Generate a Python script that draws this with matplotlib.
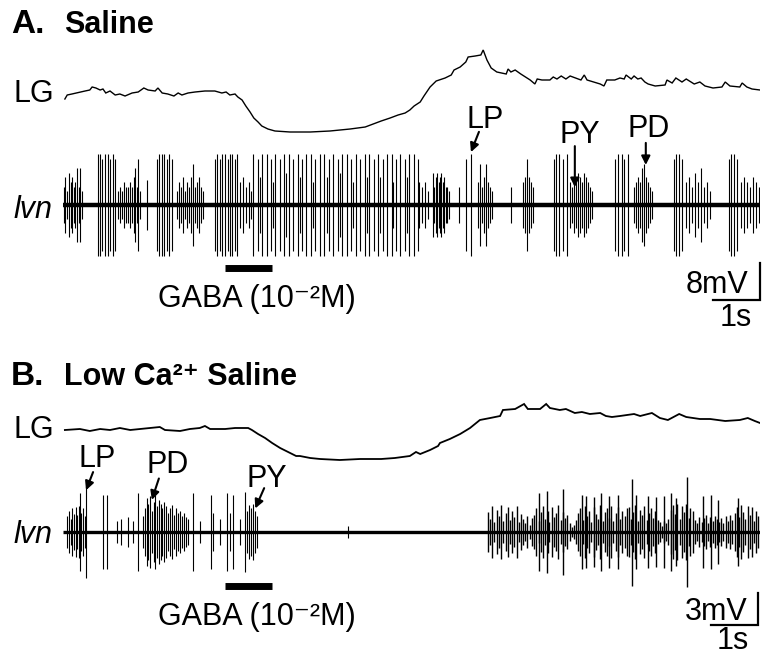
import matplotlib
matplotlib.use("Agg")
import matplotlib.pyplot as plt

plt.rcParams['font.family'] = ['Liberation Sans', 'DejaVu Sans']

# ------------------------------------------------------------
# Data: time in s, LG membrane potential in mV (relative),
# lvn spikes as time (s) + half peak-to-peak amplitude (mV)
# ------------------------------------------------------------
T_END = 14.83
gaba_on, gaba_off = 3.45, 4.45

# A. Saline
lg_a = [(0.04, -1.0), (0.09, 0.0), (0.19, 0.25), (0.47, 1.0), (0.57, 1.25), (0.62, 2.0),
        (0.70, 1.75), (0.79, 1.25), (0.85, 1.5), (0.91, 0.5), (1.00, 1.0), (1.11, 0.0),
        (1.21, 0.25), (1.32, -0.25), (1.47, 0.5), (1.60, 0.75), (1.72, 1.75), (1.81, 1.25),
        (1.96, 1.0), (2.02, 1.75), (2.11, 0.5), (2.23, 0.25), (2.36, -0.25), (2.45, 0.5),
        (2.53, 0.0), (2.66, 0.5), (2.81, 0.75), (3.02, 1.0), (3.23, 1.0), (3.38, 0.5),
        (3.47, 0.75), (3.55, 0.0), (3.66, 0.25), (3.72, -0.5), (3.81, -1.25), (3.89, -2.75),
        (3.98, -4.25), (4.06, -5.75), (4.15, -6.75), (4.23, -7.75), (4.36, -8.5), (4.51, -9.0),
        (4.83, -9.25), (5.26, -9.25), (5.68, -9.0), (6.11, -8.5), (6.43, -8.0), (6.77, -6.5),
        (6.96, -5.75), (7.13, -5.0), (7.28, -4.5), (7.38, -3.75), (7.47, -2.75), (7.60, -1.75),
        (7.68, -0.25), (7.81, 2.0), (7.94, 3.5), (8.13, 4.25), (8.26, 5.0), (8.32, 6.25),
        (8.45, 7.0), (8.57, 8.25), (8.62, 9.5), (8.77, 9.75), (8.89, 10.0), (8.94, 11.25),
        (9.02, 8.75), (9.11, 6.75), (9.23, 5.75), (9.43, 5.25), (9.47, 6.5), (9.53, 5.75),
        (9.62, 6.25), (9.74, 5.25), (9.94, 3.75), (10.04, 2.75), (10.09, 4.0), (10.19, 3.75),
        (10.36, 3.75), (10.43, 4.5), (10.51, 4.0), (10.60, 4.75), (10.70, 4.0), (10.79, 4.75),
        (11.02, 3.75), (11.09, 5.0), (11.15, 3.75), (11.43, 2.75), (11.51, 2.25), (11.57, 3.75),
        (11.74, 3.75), (11.85, 4.25), (11.94, 4.0), (11.98, 5.0), (12.09, 4.0), (12.15, 4.75),
        (12.23, 4.0), (12.30, 4.25), (12.38, 3.25), (12.45, 2.75), (12.60, 2.25), (12.81, 2.5),
        (12.85, 3.75), (12.96, 3.0), (13.04, 4.25), (13.17, 3.25), (13.26, 4.0), (13.43, 2.75),
        (13.55, 3.25), (13.66, 2.25), (13.83, 1.75), (14.02, 2.0), (14.09, 3.25), (14.19, 2.25),
        (14.40, 2.0), (14.45, 3.0), (14.55, 2.0), (14.66, 1.5), (14.83, 1.25)]

lvn_a_t = [
    0.02, 0.05, 0.09, 0.12, 0.16, 0.19, 0.23, 0.26, 0.30, 0.33, 0.36, 0.40,
    0.74, 0.79, 0.84, 0.89, 0.95, 1.00, 1.06, 1.11,
    1.17, 1.21, 1.26, 1.30, 1.34, 1.38, 1.43, 1.47, 1.51, 1.53, 1.57, 1.60, 1.64,
    1.79,
    2.01, 2.05, 2.10, 2.15, 2.21, 2.26, 2.31,
    2.43, 2.47, 2.51, 2.55, 2.60, 2.64, 2.68, 2.72, 2.77, 2.81, 2.85, 2.89, 2.94, 2.98,
    3.23, 3.28, 3.34, 3.39, 3.45, 3.50, 3.55, 3.60, 3.66, 3.71,
    3.77, 3.83, 3.89, 3.96, 4.00,
    4.04, 4.14, 4.23, 4.33, 4.42, 4.52, 4.61, 4.71, 4.80, 4.90,
    4.99, 5.09, 5.18, 5.28, 5.37, 5.47, 5.56, 5.66, 5.75, 5.85,
    5.94, 6.04, 6.13, 6.23, 6.32, 6.42, 6.51, 6.61, 6.70, 6.80,
    6.89, 6.99, 7.08, 7.18, 7.27, 7.37, 7.46, 7.55,
    4.19, 4.47, 4.75, 5.04, 5.32, 5.61, 5.90, 6.18, 6.46, 6.75, 7.03, 7.32,
    7.57, 7.64, 7.70, 7.77,
    7.87, 7.90, 7.93, 7.96, 7.99, 8.02, 8.05, 8.08, 8.11, 8.14, 8.17, 8.21,
    8.43, 8.57, 8.68,
    8.83, 8.87, 8.91, 8.96, 9.00, 9.04, 9.09, 9.13,
    9.53,
    9.79, 9.83, 9.87, 9.91, 9.96, 10.00,
    10.44, 10.49, 10.55, 10.63, 10.72,
    10.79, 10.83, 10.87, 10.91, 10.96, 11.00, 11.04, 11.09, 11.13, 11.17, 11.21, 11.26,
    11.75, 11.80, 11.89, 11.94, 12.03,
    12.15, 12.19, 12.23, 12.28, 12.32, 12.36, 12.40, 12.45, 12.49, 12.53,
    12.99, 13.04, 13.10, 13.17,
    13.26, 13.32, 13.38, 13.45, 13.51, 13.57, 13.64, 13.70, 13.77,
    14.16, 14.21, 14.27, 14.34,
    14.43, 14.49, 14.55, 14.62, 14.68, 14.74, 14.81,
]
lvn_a_amp = [
    4, 6, 3, 7, 5, 6, 4, 5, 8, 4, 8, 3,
    11, 11, 10, 11, 11, 10, 11, 10,
    3, 4, 3, 5, 4, 4, 5, 4, 6, 8, 4, 10, 3,
    5.5,
    10, 11, 11, 11, 10, 11, 10,
    3, 5, 4, 6, 3, 5, 4, 6, 9, 4, 5, 6, 4, 3,
    10, 11, 10, 11, 11, 10, 11, 11, 10, 11,
    5, 6, 4, 5, 3,
    11, 10, 11, 11, 10, 11, 10, 11, 11, 10,
    11, 10, 11, 11, 10, 11, 11, 10, 11, 10,
    11, 11, 10, 11, 10, 11, 11, 10, 11, 10,
    11, 11, 10, 11, 10, 11, 11, 10,
    6, 5, 7, 6, 5, 6, 7, 5, 6, 6, 5, 6,
    5, 4, 5, 3,
    7, 4, 6, 7, 5, 6, 7, 5, 6, 4, 4, 3,
    4, 10, 11,
    5, 9, 4, 6, 9, 5, 4, 3,
    4,
    5, 6, 10, 6, 5, 4,
    10, 11, 11, 10, 11,
    5, 4, 6, 5, 7, 6, 5, 7, 6, 5, 4, 3,
    10, 11, 11, 10, 11,
    4, 5, 6, 5, 8, 9, 6, 5, 4, 3,
    10, 11, 11, 10,
    5, 6, 4, 7, 5, 8, 4, 5, 3,
    10, 11, 11, 10,
    5, 6, 5, 4, 6, 5, 4,
]

# B. Low Ca2+ saline
lg_b = [(0.04, 0.0), (0.36, 0.25), (0.57, -0.25), (0.79, 0.25), (1.00, 0.0), (1.21, 0.5),
        (1.43, 0.0), (1.64, 0.25), (1.85, 0.5), (2.06, 0.75), (2.17, 0.0), (2.49, -0.25),
        (2.70, 0.25), (2.91, 0.5), (3.02, 1.0), (3.13, 0.25), (3.45, 0.25), (3.66, 0.5),
        (3.94, 0.5), (4.02, 0.0), (4.15, -1.0), (4.30, -2.0), (4.45, -3.25), (4.62, -4.5),
        (4.79, -5.5), (4.96, -6.5), (5.04, -6.5), (5.26, -7.0), (5.47, -7.25), (5.89, -7.5),
        (6.32, -7.25), (6.77, -7.25), (7.06, -7.0), (7.38, -6.5), (7.51, -5.5), (7.60, -6.0),
        (7.81, -5.0), (7.98, -4.0), (8.02, -3.25), (8.23, -2.25), (8.45, -1.0), (8.66, 0.5),
        (8.87, 2.5), (9.09, 3.0), (9.30, 3.5), (9.36, 5.0), (9.62, 5.25), (9.81, 6.5),
        (9.89, 5.25), (10.15, 5.25), (10.28, 6.5), (10.36, 5.5), (10.57, 5.0), (10.70, 5.25),
        (10.89, 4.25), (11.04, 4.5), (11.21, 4.0), (11.43, 4.25), (11.55, 3.5), (11.68, 3.25),
        (11.85, 3.5), (12.15, 4.0), (12.28, 3.5), (12.53, 4.25), (12.70, 3.0), (12.87, 2.5),
        (13.11, 4.0), (13.26, 3.25), (13.55, 2.75), (13.77, 2.75), (14.09, 2.25), (14.40, 2.5),
        (14.57, 3.0), (14.72, 2.25), (14.83, 1.75)]

# pyloric bursts before / during GABA
lvn_b_t = [
    0.09, 0.13, 0.16, 0.20, 0.23, 0.27, 0.30, 0.34, 0.36, 0.39, 0.43, 0.46, 0.49,
    0.85, 0.94, 1.15, 1.23, 1.38, 1.49, 1.60,
    1.70, 1.74, 1.78, 1.81, 1.85, 1.89, 1.93, 1.96, 2.00, 2.04, 2.08, 2.11, 2.15,
    2.19, 2.23, 2.27, 2.31, 2.36, 2.40, 2.45, 2.49, 2.53, 2.57, 2.62, 2.66,
    2.77, 2.91, 3.15, 3.19, 3.34, 3.49, 3.55, 3.62, 3.77,
    3.87, 3.91, 3.96, 4.00, 4.04, 4.09, 4.13,
    6.06,
]
lvn_b_amp = [
    1.5, 2.0, 1.2, 2.2, 1.7, 2.3, 1.6, 2.4, 3.6, 1.8, 2.2, 1.5, 4.3,
    3.5, 3.5, 1.0, 1.2, 1.4, 1.0, 3.6,
    1.5, 2.2, 3.2, 2.6, 3.4, 2.0, 2.8, 3.5, 2.4, 3.0, 2.6, 2.2, 2.8,
    2.4, 1.8, 2.2, 2.5, 1.6, 2.2, 1.8, 2.0, 1.5, 1.8, 1.4, 1.2,
    3.6, 1.0, 3.5, 1.8, 1.2, 3.6, 1.8, 3.5, 1.2,
    3.7, 2.0, 2.5, 2.2, 2.6, 2.0, 1.5,
    0.6,
]

# ongoing tonic activity after recovery
wash_b_t = [
    9.04, 9.09, 9.13, 9.18, 9.23, 9.27, 9.32, 9.37, 9.42, 9.46, 9.51, 9.56, 9.60, 9.65, 9.70, 9.74, 9.79, 9.84, 9.88, 9.93, 9.98,
    10.03, 10.07, 10.12, 10.17, 10.21, 10.26, 10.31, 10.35, 10.40, 10.45, 10.49, 10.54, 10.59, 10.63, 10.68, 10.73, 10.78, 10.82, 10.87, 10.92, 10.96,
    11.01, 11.06, 11.10, 11.15, 11.20, 11.24, 11.29, 11.34, 11.39, 11.43, 11.48, 11.53, 11.57, 11.62, 11.67, 11.71, 11.76, 11.81, 11.85, 11.90, 11.95, 11.99,
    12.04, 12.09, 12.13, 12.18, 12.23, 12.27, 12.32, 12.37, 12.42, 12.46, 12.51, 12.56, 12.60, 12.65, 12.70, 12.74, 12.79, 12.84, 12.88, 12.93, 12.98,
    13.03, 13.07, 13.12, 13.17, 13.21, 13.26, 13.31, 13.35, 13.40, 13.45, 13.49, 13.54, 13.59, 13.63, 13.68, 13.73, 13.77, 13.82, 13.87, 13.91, 13.96,
    14.01, 14.05, 14.10, 14.15, 14.19, 14.24, 14.29, 14.33, 14.38, 14.43, 14.47, 14.52, 14.57, 14.61, 14.66, 14.71, 14.75, 14.79,
    # large units riding on it
    10.13, 10.30, 10.64, 11.04, 11.13, 11.30, 11.45, 11.62, 11.81, 12.11, 12.19,
    12.45, 12.62, 12.79, 12.94, 13.04, 13.28, 13.62, 13.79, 13.94, 14.36,
]
wash_b_amp = [
    1.9, 1.2, 2.4, 0.9, 2.1, 1.5, 2.5, 1.0, 1.8, 2.3, 1.1, 2.0, 1.4, 2.4, 0.9, 1.7, 1.2, 0.8, 1.5, 0.7, 1.3,
    1.6, 2.2, 1.0, 1.9, 2.4, 1.2, 2.0, 0.9, 2.3, 1.4, 1.8, 2.5, 1.1, 1.9, 1.3, 1.6, 0.8, 0.5, 0.7, 1.1, 1.8,
    2.2, 1.1, 2.4, 1.5, 2.0, 0.9, 2.3, 1.7, 1.2, 2.5, 1.0, 1.9, 2.2, 1.3, 2.4, 1.0, 1.8, 2.3, 1.2, 2.0, 1.5, 2.2,
    2.3, 1.2, 1.9, 2.5, 1.0, 2.1, 1.6, 2.4, 1.1, 1.8, 2.2, 1.3, 2.0, 1.1, 0.9, 0.6, 1.0, 0.8, 1.2, 2.1, 2.5,
    1.7, 2.6, 1.2, 2.4, 1.9, 2.6, 1.3, 2.2, 2.0, 1.1, 0.8, 1.4, 0.9, 1.3, 1.6, 0.8, 1.4, 1.0, 1.5, 1.2, 0.9,
    1.3, 0.8, 1.5, 1.0, 1.6, 1.1, 1.8, 2.3, 1.4, 2.5, 1.9, 1.2, 2.4, 1.6, 2.3, 1.0, 2.0, 1.5,
    3.6, 3.8, 4.0, 3.5, 3.4, 3.3, 3.6, 3.4, 3.5, 5.0, 3.5,
    3.4, 3.3, 3.4, 3.6, 3.2, 5.1, 3.4, 3.5, 3.0, 3.2,
]

assert len(lvn_a_t) == len(lvn_a_amp)
assert len(lvn_b_t) == len(lvn_b_amp)
assert len(wash_b_t) == len(wash_b_amp)

# ------------------------------------------------------------
# Figure layout (pixels)
# ------------------------------------------------------------
W, H = 762, 655
X0 = 63          # left edge of traces
PX_PER_S = 47

fig = plt.figure(figsize=(W / 100, H / 100), dpi=100)

ov = fig.add_axes([0, 0, 1, 1])
ov.set_xlim(0, W)
ov.set_ylim(H, 0)
ov.axis('off')


def trace_axes(y0, px_per_unit, lim):
    lo, hi = lim
    top = y0 - hi * px_per_unit
    h = (hi - lo) * px_per_unit
    ax = fig.add_axes([X0 / W, 1 - (top + h) / H, T_END * PX_PER_S / W, h / H])
    ax.set_xlim(0, T_END)
    ax.set_ylim(lo, hi)
    ax.axis('off')
    return ax


def draw_lg(ax, pts, lw):
    t, v = zip(*pts)
    ax.plot(t, v, color='k', lw=lw, solid_joinstyle='miter')


def draw_spikes(ax, t, amp, lw=0.8):
    ax.vlines(t, [-a for a in amp], amp, color='k', lw=lw)


def arrow(ax, tail, tip):
    ax.annotate('', xy=tip, xytext=tail, annotation_clip=False,
                arrowprops=dict(arrowstyle='-|>', color='k', lw=1.5,
                                shrinkA=0, shrinkB=0, mutation_scale=13))


def scale_bar(ax, t_right, v_bottom, mv):
    ax.plot([t_right - 1, t_right, t_right], [v_bottom, v_bottom, v_bottom + mv],
            color='k', lw=1.6, clip_on=False, solid_joinstyle='miter')


TXT = 22
GABA_LABEL = 'GABA (10\u207b\u00b2M)'

# ---------------- A. Saline ----------------
ov.text(11, 33, 'A.', fontsize=24, fontweight='bold', va='baseline')
ov.text(64, 33, 'Saline', fontsize=22, fontweight='bold', va='baseline')
ov.text(14, 102, 'LG', fontsize=TXT, va='baseline')
ov.text(14, 218, 'lvn', fontsize=TXT, style='italic', va='baseline')

ax_lg_a = trace_axes(95, 4, (-12, 13))
draw_lg(ax_lg_a, lg_a, 1.0)

ax_lvn_a = trace_axes(205, 4.6, (-13, 13))
ax_lvn_a.plot([0, T_END], [0, 0], color='k', lw=3.2, solid_capstyle='butt')
draw_spikes(ax_lvn_a, lvn_a_t, lvn_a_amp)
ax_lvn_a.plot([gaba_on, gaba_off], [-13.7, -13.7], color='k', lw=5, clip_on=False,
              solid_capstyle='butt')
scale_bar(ax_lvn_a, T_END, -20.65, 8)

ov.text(485, 128, 'LP', fontsize=TXT, ha='center', va='baseline')
ov.text(580, 143, 'PY', fontsize=TXT, ha='center', va='baseline')
ov.text(649, 137, 'PD', fontsize=TXT, ha='center', va='baseline')
arrow(ax_lvn_a, (8.85, 15.9), (8.68, 11.5))
arrow(ax_lvn_a, (10.89, 12.8), (10.89, 3.9))
arrow(ax_lvn_a, (12.40, 13.5), (12.40, 8.7))

ov.text(158, 307, GABA_LABEL, fontsize=TXT, va='baseline')
ov.text(748, 293, '8mV', fontsize=TXT, ha='right', va='baseline')
ov.text(736, 326, '1s', fontsize=TXT, ha='center', va='baseline')

# ---------------- B. Low Ca2+ saline ----------------
ov.text(11, 385, 'B.', fontsize=24, fontweight='bold', va='baseline')
ov.text(64, 385, 'Low Ca\u00b2\u207a Saline', fontsize=22, fontweight='bold',
        va='baseline')
ov.text(14, 438, 'LG', fontsize=TXT, va='baseline')
ov.text(14, 543, 'lvn', fontsize=TXT, style='italic', va='baseline')

ax_lg_b = trace_axes(430, 4, (-9, 8))
draw_lg(ax_lg_b, lg_b, 1.3)

ax_lvn_b = trace_axes(532, 10.7, (-5.5, 5.5))
ax_lvn_b.plot([0, T_END], [0, 0], color='k', lw=2.4, solid_capstyle='butt')
draw_spikes(ax_lvn_b, lvn_b_t, lvn_b_amp)
draw_spikes(ax_lvn_b, wash_b_t, wash_b_amp, lw=1.0)
ax_lvn_b.plot([gaba_on, gaba_off], [-5.05, -5.05], color='k', lw=5, clip_on=False,
              solid_capstyle='butt')
scale_bar(ax_lvn_b, 14.79, -8.69, 3)

ov.text(97, 467, 'LP', fontsize=TXT, ha='center', va='baseline')
ov.text(168, 473, 'PD', fontsize=TXT, ha='center', va='baseline')
ov.text(267, 487, 'PY', fontsize=TXT, ha='center', va='baseline')
arrow(ax_lvn_b, (0.64, 5.6), (0.49, 3.9))
arrow(ax_lvn_b, (2.04, 5.0), (1.89, 3.0))
arrow(ax_lvn_b, (4.28, 4.1), (4.09, 2.2))

ov.text(158, 625, GABA_LABEL, fontsize=TXT, va='baseline')
ov.text(748, 620, '3mV', fontsize=TXT, ha='right', va='baseline')
ov.text(733, 649, '1s', fontsize=TXT, ha='center', va='baseline')

fig.savefig('out.png', dpi=100)
